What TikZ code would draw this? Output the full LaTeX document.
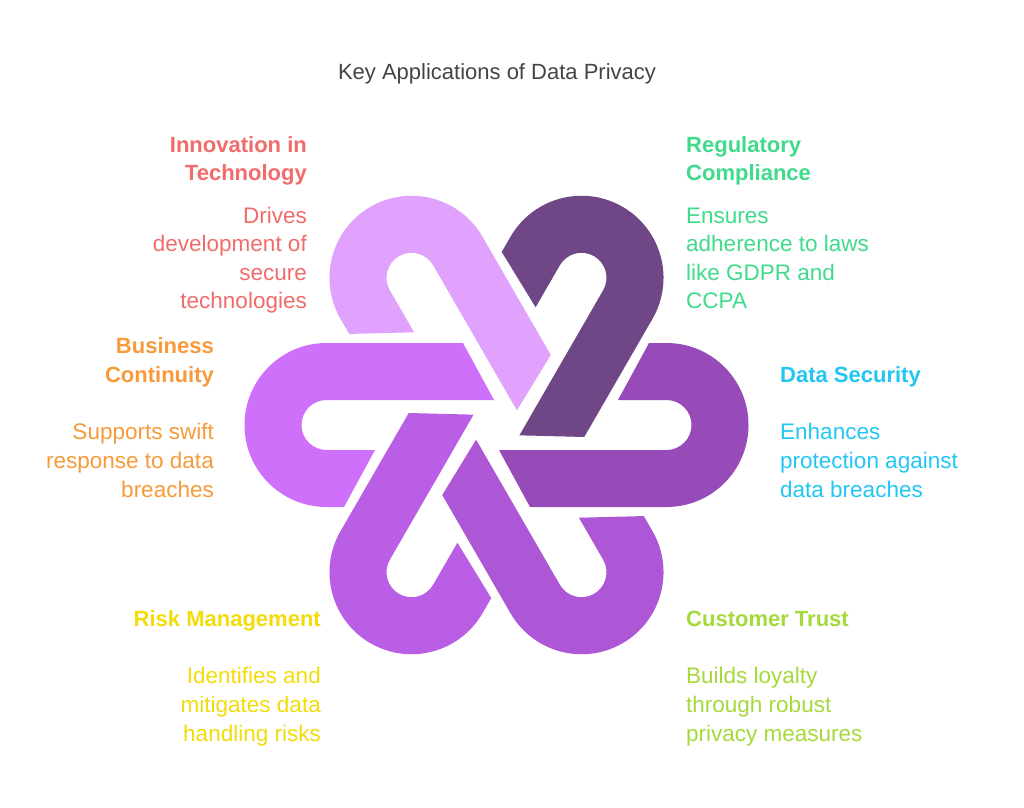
\documentclass[tikz,border=0pt]{standalone}
\usepackage{fontspec}
\setmainfont{Liberation Sans}
\definecolor{cA}{HTML}{CF70FB}
\definecolor{cB}{HTML}{E0A2FC}
\definecolor{cC}{HTML}{704786}
\definecolor{cD}{HTML}{974BB9}
\definecolor{cE}{HTML}{AD57D6}
\definecolor{cF}{HTML}{BA5EE6}
\definecolor{tInn}{HTML}{F26B6B}
\definecolor{tReg}{HTML}{3FDB8A}
\definecolor{tBus}{HTML}{F79A3C}
\definecolor{tSec}{HTML}{22C6F2}
\definecolor{tRisk}{HTML}{F2DC0A}
\definecolor{tCus}{HTML}{A6D93A}
\definecolor{tTitle}{HTML}{444444}
\tikzset{
  hd/.style={font=\fontsize{22}{28.8}\selectfont\bfseries, inner sep=0pt},
  bd/.style={font=\fontsize{22.5}{28.6}\selectfont, inner sep=0pt},
}
\newcommand{\hookshape}[2]{%
\begin{scope}[shift={(496.5,382)}, rotate=#1]
\fill[#2] (-33.5,82) -- (-170,82) arc[start angle=90,end angle=270,radius=82]
  -- (-152.5,-82) -- (-121.5,-25) -- (-170,-25)
  arc[start angle=270,end angle=90,radius=25] -- (-2.5,25) -- cycle;
\end{scope}}
\begin{document}
\begin{tikzpicture}[x=1pt,y=1pt]
\useasboundingbox (0,0) rectangle (1024,807);
\fill[white] (0,0) rectangle (1024,807);
\hookshape{0}{cA}
\hookshape{-60}{cB}
\hookshape{-120}{cC}
\hookshape{-180}{cD}
\hookshape{-240}{cE}
\hookshape{-300}{cF}
\node[font=\fontsize{22}{26}\selectfont, inner sep=0pt, text=tTitle, anchor=base] (title) at (497,727) {Key Applications of Data Privacy};
\node[hd, text=tInn, align=right, anchor=base east] (h1) at (307,626) {Innovation in\\Technology};
\node[bd, text=tInn, align=right, anchor=base east] (b1) at (307,498) {Drives\\development of\\secure\\technologies};
\node[hd, text=tReg, align=left, anchor=base west] (h2) at (686,626) {Regulatory\\Compliance};
\node[bd, text=tReg, align=left, anchor=base west] (b2) at (686,498) {Ensures\\adherence to laws\\like GDPR and\\CCPA};
\node[hd, text=tBus, align=right, anchor=base east] (h3) at (214,425) {Business\\Continuity};
\node[bd, text=tBus, align=right, anchor=base east] (b3) at (214,310) {Supports swift\\response to data\\breaches};
\node[hd, text=tSec, align=left, anchor=base west] (h4) at (780,425) {Data Security};
\node[bd, text=tSec, align=left, anchor=base west] (b4) at (780,310) {Enhances\\protection against\\data breaches};
\node[hd, text=tRisk, align=right, anchor=base east] (h5) at (321,181) {Risk Management};
\node[bd, text=tRisk, align=right, anchor=base east] (b5) at (321,66) {Identifies and\\mitigates data\\handling risks};
\node[hd, text=tCus, align=left, anchor=base west] (h6) at (686,181) {Customer Trust};
\node[bd, text=tCus, align=left, anchor=base west] (b6) at (686,66) {Builds loyalty\\through robust\\privacy measures};
\end{tikzpicture}
\end{document}
